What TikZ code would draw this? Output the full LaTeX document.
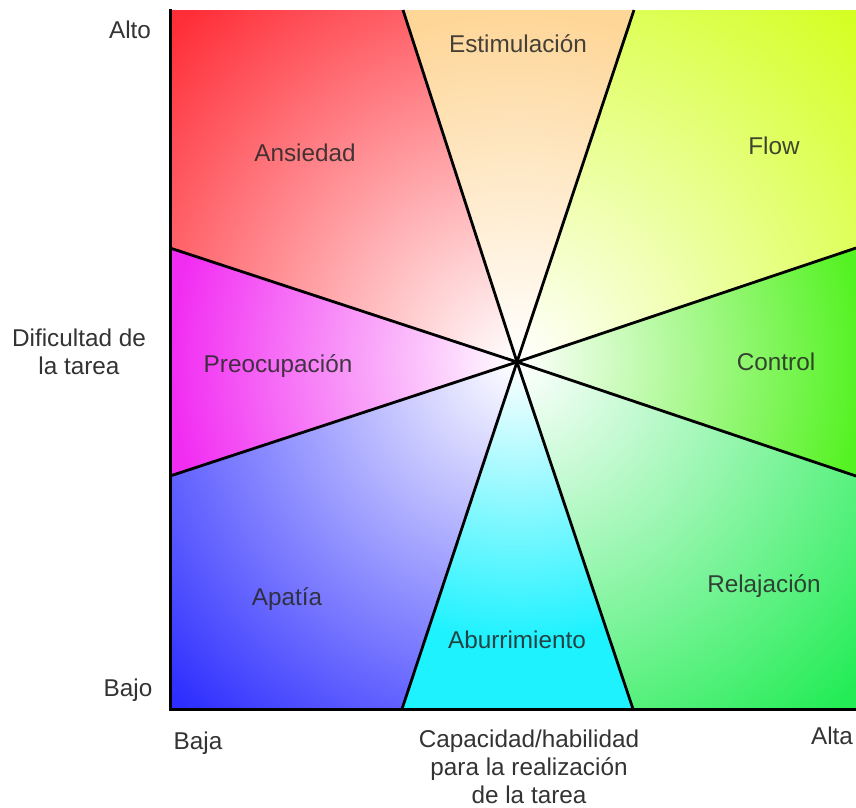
\documentclass[tikz,border=0pt]{standalone}
\usepackage{fontspec}
\setmainfont{Liberation Sans}
\begin{document}
\begin{tikzpicture}[x=1pt,y=-1pt,
  axis/.style={line width=3pt, line cap=rect},
  divider/.style={line width=2.8pt},
  zonelabel/.style={text=black!85, text opacity=0.86, anchor=base,
    font=\fontsize{24.3}{28}\selectfont},
  axislabel/.style={text=black!80, inner sep=0pt, align=center,
    font=\fontsize{24.3}{27.6}\selectfont},
]
% sector colours, saturated at the rim
\definecolor{cAns}{RGB}{255,45,55}
\definecolor{cEst}{RGB}{254,214,152}
\definecolor{cFlow}{RGB}{212,255,35}
\definecolor{cCtrl}{RGB}{85,242,35}
\definecolor{cRel}{RGB}{35,236,85}
\definecolor{cAbu}{RGB}{30,242,255}
\definecolor{cApa}{RGB}{45,45,255}
\definecolor{cPre}{RGB}{242,45,242}

% one sector: solid rim colour, then a white-to-colour disc over it
\newcommand\zonefill[3]{%
  \begin{scope}
    \clip #1;
    \fill[#2] (0,0) rectangle (856,807);
    \shade[inner color=white, outer color=#2] (O) circle[radius=#3];
  \end{scope}}

\useasboundingbox (0,0) rectangle (856,807);
\fill[white] (0,0) rectangle (856,807);

% centre and rim points
\coordinate (O)  at (517,362);
\coordinate (TL) at (170,10);
\coordinate (TR) at (856,10);
\coordinate (BL) at (170,709);
\coordinate (BR) at (856,709);
\coordinate (T1) at (403,10);
\coordinate (T2) at (634,10);
\coordinate (B1) at (402,709);
\coordinate (B2) at (633,709);
\coordinate (L1) at (170,248);
\coordinate (L2) at (170,476);
\coordinate (R1) at (856,248);
\coordinate (R2) at (856,476);

% sectors
\zonefill{(O) -- (L1) -- (TL) -- (T1) -- cycle}{cAns}{480}
\zonefill{(O) -- (T1) -- (T2) -- cycle}{cEst}{350}
\zonefill{(O) -- (T2) -- (TR) -- (R1) -- cycle}{cFlow}{480}
\zonefill{(O) -- (R1) -- (R2) -- cycle}{cCtrl}{345}
\zonefill{(O) -- (R2) -- (BR) -- (B2) -- cycle}{cRel}{470}
\zonefill{(O) -- (B2) -- (B1) -- cycle}{cAbu}{280}
\zonefill{(O) -- (B1) -- (BL) -- (L2) -- cycle}{cApa}{480}
\zonefill{(O) -- (L2) -- (L1) -- cycle}{cPre}{345}

% dividing lines
\foreach \p in {T1,T2,R1,R2,B2,B1,L2,L1}
  \draw[divider] (O) -- (\p);

% axes
\draw[axis] (TL) -- (BL) -- (BR);

% sector names
\node[zonelabel] (ans)  at (305,161) {Ansiedad};
\node[zonelabel] (est)  at (518,52)  {Estimulación};
\node[zonelabel] (flow) at (774,154) {Flow};
\node[zonelabel] (ctrl) at (776,370) {Control};
\node[zonelabel] (rel)  at (764,592) {Relajación};
\node[zonelabel] (abu)  at (517,648) {Aburrimiento};
\node[zonelabel] (apa)  at (287,605) {Apatía};
\node[zonelabel] (pre)  at (278,372) {Preocupación};

% axis names
\node[axislabel, anchor=base] (alto) at (130,38)  {Alto};
\node[axislabel, anchor=base] (bajo) at (128,696) {Bajo};
\node[axislabel, anchor=north] (dif) at (79,329) {Dificultad de\\la tarea};
\node[axislabel, anchor=base] (baja) at (198,749) {Baja};
\node[axislabel, anchor=base] (alta) at (832,744) {Alta};
\node[axislabel, anchor=north] (cap) at (529,730) {Capacidad/habilidad\\para la realización\\de la tarea};
\end{tikzpicture}
\end{document}
